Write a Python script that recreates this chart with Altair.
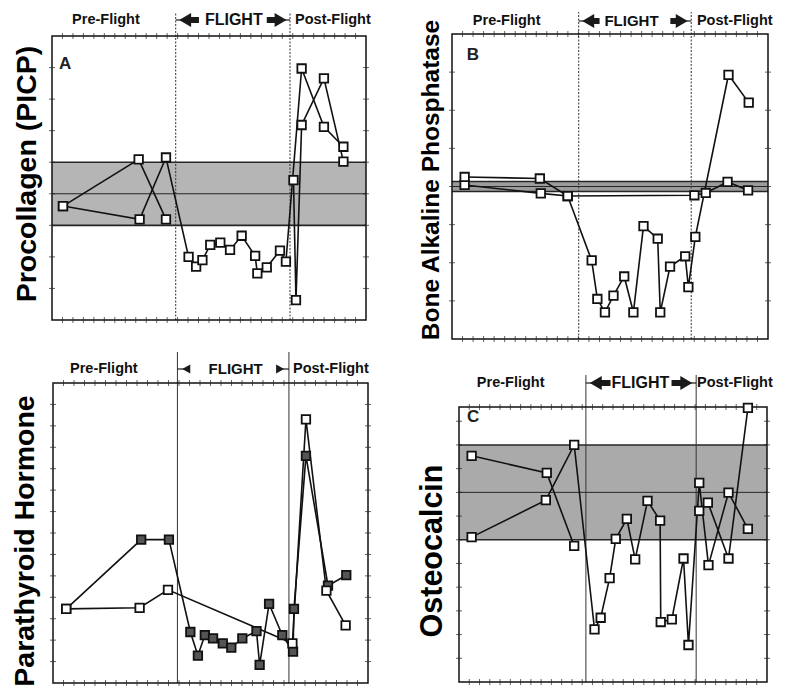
import altair as alt
import pandas as pd

# ---------------- data (x = relative time across each frame, 0-100; y = arbitrary units) -------------
# Panel A: Procollagen (PICP)
A_s1_x = [3.5, 27.9, 36.3, 43.5, 45.9, 47.9, 50.4, 53.6, 56.7, 60.4, 64.7, 65.4, 68.4, 72.6, 74.5, 79.5, 86.6, 92.8]
A_s1_y = [3.61, 3.19, 5.15, 2.00, 1.69, 1.90, 2.38, 2.45, 2.22, 2.67, 2.03, 1.48, 1.67, 2.20, 1.85, 7.97, 6.12, 5.49]
A_s2_pre_x = [3.5, 27.6, 36.3]
A_s2_pre_y = [3.61, 5.09, 3.19]
A_s2_post_x = [76.9, 77.7, 79.5, 86.6, 92.8]
A_s2_post_y = [4.43, 0.63, 6.18, 7.66, 5.02]

# Panel B: Bone Alkaline Phosphatase
B_s1_x = [4.0, 28.1, 36.6, 44.2, 46.0, 48.4, 51.1, 54.5, 57.4, 60.6, 65.1, 65.9, 69.0, 73.8, 74.8, 77.0, 87.5, 93.9]
B_s1_y = [4.04, 3.82, 3.75, 2.06, 1.05, 0.70, 1.14, 1.64, 0.70, 2.96, 2.63, 0.70, 1.90, 2.17, 1.36, 2.68, 6.93, 6.20]
B_s2_x = [4.0, 27.8, 36.6, 76.7, 80.3, 87.2, 93.7]
B_s2_y = [4.25, 4.21, 3.75, 3.77, 3.83, 4.12, 3.90]

# Panel: Parathyroid Hormone
P_s1_x = [4.2, 28.0, 36.8, 43.6, 46.0, 48.2, 50.8, 53.9, 56.6, 60.1, 64.6, 65.6, 68.6, 72.8, 76.2, 76.5, 80.3, 87.3, 93.1]
P_s1_y = [3.46, 6.69, 6.69, 2.38, 1.28, 2.23, 2.08, 1.85, 1.65, 2.08, 2.42, 0.85, 3.69, 2.23, 1.46, 3.46, 10.6, 4.54, 5.03]
P_s2_x = [4.2, 27.5, 36.5, 76.0, 80.3, 86.8, 92.9]
P_s2_y = [3.46, 3.51, 4.35, 1.85, 12.3, 4.31, 2.69]

# Panel C: Osteocalcin
C_s1_x = [4.1, 28.2, 37.4, 44.0, 46.0, 48.9, 50.9, 54.5, 57.2, 61.2, 65.3, 65.5, 69.1, 72.9, 74.5, 78.0, 81.0, 87.5, 93.8]
C_s1_y = [6.11, 7.67, 10.0, 2.22, 2.71, 4.38, 6.04, 6.88, 5.17, 7.64, 6.81, 2.53, 2.64, 5.21, 1.56, 8.40, 4.93, 7.99, 6.46]
C_s2_pre_x = [4.1, 28.5, 37.4]
C_s2_pre_y = [9.54, 8.82, 5.74]
C_s2_post_x = [78.0, 80.8, 87.5, 93.8]
C_s2_post_y = [7.22, 7.57, 5.21, 11.56]

phase_labels = ["Pre-Flight", "FLIGHT", "Post-Flight"]


def seg_df(parts):
    rows = []
    for xs, ys, seg, kind in parts:
        for i, (a, b) in enumerate(zip(xs, ys)):
            rows.append(dict(x=a, y=b, seg=seg, kind=kind, ord=i))
    return pd.DataFrame(rows)


FONT = "Liberation Sans, Arial, Helvetica, sans-serif"
NARROW = "Liberation Sans Narrow, Liberation Sans, Arial, sans-serif"


def panel(P):
    xs = alt.Scale(domain=[0, 100], range=P["xr"], nice=False, zero=False)
    ys = alt.Scale(domain=[0, P["ymax"]], range=P["yr"], nice=False, zero=False)

    def X(f):
        return alt.X(f, type="quantitative", scale=xs, axis=None)

    def Y(f):
        return alt.Y(f, type="quantitative", scale=ys, axis=None)

    layers = []
    if P["band"]:
        lo, hi, mid = P["band"]
        bdf = pd.DataFrame({"x0": [0], "x1": [100], "lo": [lo], "hi": [hi]})
        layers.append(alt.Chart(bdf).mark_rect(color=P["band_color"]).encode(
            x=X("x0"), x2="x1", y=Y("lo"), y2="hi"))
        ldf = pd.DataFrame({"x0": [0, 0, 0], "x1": [100, 100, 100], "v": [lo, hi, mid], "w": [1.6, 1.6, 1.0]})
        layers.append(alt.Chart(ldf).mark_rule(color="#262626").encode(
            x=X("x0"), x2="x1", y=Y("v"), strokeWidth=alt.StrokeWidth("w:Q", scale=None)))

    # dividers (extend up into the header as the flight bracket)
    d1, d2 = P["divs"]
    ddf = pd.DataFrame({"d": P["divs"], "y0": [0, 0]})
    rule_kw = dict(color="#333333", strokeWidth=1)
    if P["dashed"]:
        rule_kw["strokeDash"] = [2, 1.5]
    layers.append(alt.Chart(ddf).mark_rule(**rule_kw).encode(
        x=X("d"), y=Y("y0"), y2=alt.value(P["div_top"])))

    # frame
    fdf = pd.DataFrame({"x0": [0], "x1": [100], "y0": [0], "y1": [P["ymax"]]})
    layers.append(alt.Chart(fdf).mark_rect(fillOpacity=0, stroke="#111111", strokeWidth=1.5).encode(
        x=X("x0"), x2="x1", y=Y("y0"), y2="y1"))

    # ticks
    xt = [i * 100 / 30 for i in range(1, 30)]
    xtdf = pd.DataFrame({"x": xt + xt, "y": [0] * len(xt) + [P["ymax"]] * len(xt)})
    layers.append(alt.Chart(xtdf).mark_tick(orient="vertical", size=6, thickness=1, color="#222222").encode(
        x=X("x"), y=Y("y")))
    yt = list(range(1, int(P["ymax"]) + 1))
    yt = [v for v in yt if v < P["ymax"]]
    ytdf = pd.DataFrame({"y": yt + yt, "x": [0] * len(yt) + [100] * len(yt)})
    layers.append(alt.Chart(ytdf).mark_tick(orient="horizontal", size=6, thickness=1, color="#222222").encode(
        x=X("x"), y=Y("y")))

    # data
    sdf = seg_df(P["series"])
    layers.append(alt.Chart(sdf).mark_line(color="#111111", strokeWidth=1.6).encode(
        x=X("x"), y=Y("y"), detail="seg:N", order="ord:Q"))
    layers.append(alt.Chart(sdf).mark_point(shape="square", filled=True, size=72, stroke="#111111",
                                            strokeWidth=1.8, opacity=1).encode(
        x=X("x"), y=Y("y"),
        fill=alt.Fill("kind:N", scale=alt.Scale(domain=["open", "filled"], range=["#ffffff", "#555555"]),
                      legend=None)))

    # header texts
    hy = P["hdr_y"]
    left_df = pd.DataFrame({"x": [P["pre_x"], P["post_x"]], "t": [phase_labels[0], phase_labels[2]]})
    layers.append(alt.Chart(left_df).mark_text(font=FONT, fontWeight="bold", fontSize=14.5, align="left",
                                               baseline="middle", color="#111111").encode(
        x=X("x"), y=alt.value(hy), text="t:N"))
    fl_df = pd.DataFrame({"x": [P["flight_x"]], "t": [phase_labels[1]]})
    layers.append(alt.Chart(fl_df).mark_text(font=NARROW, fontWeight="bold", fontSize=P["flight_size"],
                                             align="center", baseline="middle", color="#111111").encode(
        x=X("x"), y=alt.value(hy), text="t:N"))

    # flight bracket arrows: thin lead line, triangular head, thick tail
    h, t0, t1 = P["arrow_geo"]
    lead = pd.DataFrame({"a": [d1, d2 - h], "b": [d1 + h, d2]})
    layers.append(alt.Chart(lead).mark_rule(color="#1a1a1a", strokeWidth=1.2).encode(
        x=X("a"), x2="b", y=alt.value(hy)))
    heads = pd.DataFrame({"x": [d1 + h, d2 - h], "s": ["triangle-left", "triangle-right"]})
    layers.append(alt.Chart(heads).mark_point(filled=True, size=P["head_size"], color="#1a1a1a",
                                              opacity=1).encode(
        x=X("x"), y=alt.value(hy),
        shape=alt.Shape("s:N", scale=alt.Scale(domain=["triangle-left", "triangle-right"],
                                               range=["triangle-left", "triangle-right"]), legend=None)))
    if P["tail"]:
        tails = pd.DataFrame({"a": [d1 + t0, d2 - t1], "b": [d1 + t1, d2 - t0]})
        layers.append(alt.Chart(tails).mark_rule(color="#1a1a1a", strokeWidth=P["tail"]).encode(
            x=X("a"), x2="b", y=alt.value(hy)))

    # panel letter
    if P["letter"]:
        lx, ly, lt = P["letter"]
        ldf2 = pd.DataFrame({"x": [lx], "y": [ly], "t": [lt]})
        layers.append(alt.Chart(ldf2).mark_text(font=FONT, fontWeight="bold", fontSize=17, align="left",
                                                baseline="middle", color="#222222").encode(
            x=X("x"), y=Y("y"), text="t:N"))

    # y-axis title
    tdf = pd.DataFrame({"t": [P["title"]]})
    layers.append(alt.Chart(tdf).mark_text(font=FONT, fontWeight="bold", fontSize=P["title_size"], angle=270,
                                           align="center", baseline="middle", color="#000000").encode(
        x=alt.value(P["title_xy"][0]), y=alt.value(P["title_xy"][1]), text="t:N"))

    return alt.layer(*layers)


panels = [
    dict(xr=[44, 358], yr=[312, 28], ymax=9, band=(3, 5, 4), band_color="#b5b5b5", divs=[39.4, 75.8],
         dashed=True, div_top=4, hdr_y=12, pre_x=6.4, post_x=77.4, flight_x=57.9, flight_size=16,
         arrow_geo=(3.0, 4.4, 7.4), head_size=190, tail=6,
         series=[(A_s1_x, A_s1_y, "s1", "open"), (A_s2_pre_x, A_s2_pre_y, "s2a", "open"),
                 (A_s2_post_x, A_s2_post_y, "s2b", "open")],
         letter=(2.2, 8.1, "A"), title="Procollagen (PICP)", title_size=28.5, title_xy=(19, 166)),
    dict(xr=[444, 760], yr=[331, 26], ymax=8, band=(3.87, 4.13, 4.0), band_color="#9c9c9c", divs=[40.1, 75.7],
         dashed=True, div_top=4, hdr_y=13, pre_x=6.6, post_x=77.5, flight_x=56.8, flight_size=15,
         arrow_geo=(3.0, 4.4, 6.6), head_size=190, tail=6,
         series=[(B_s1_x, B_s1_y, "s1", "open"), (B_s2_x, B_s2_y, "s2", "open")],
         letter=(4.7, 7.45, "B"), title="Bone Alkaline Phosphatase", title_size=24.5, title_xy=(424, 172)),
    dict(xr=[45, 360], yr=[675, 375], ymax=14, band=None, band_color=None, divs=[39.5, 74.9],
         dashed=False, div_top=344, hdr_y=361, pre_x=5.4, post_x=76.2, flight_x=58.0, flight_size=15,
         arrow_geo=(2.8, 0, 0), head_size=85, tail=0,
         series=[(P_s1_x, P_s1_y, "s1", "filled"), (P_s2_x, P_s2_y, "s2", "open")],
         letter=None, title="Parathyroid Hormone", title_size=28.5, title_xy=(17, 533)),
    dict(xr=[451, 759], yr=[674, 399], ymax=11.6, band=(6, 10, 8), band_color="#aaaaaa", divs=[41.2, 77.0],
         dashed=False, div_top=367, hdr_y=375, pre_x=5.8, post_x=77.3, flight_x=58.9, flight_size=16,
         arrow_geo=(3.2, 4.6, 8.0), head_size=190, tail=6,
         series=[(C_s1_x, C_s1_y, "s1", "open"), (C_s2_pre_x, C_s2_pre_y, "s2a", "open"),
                 (C_s2_post_x, C_s2_post_y, "s2b", "open")],
         letter=(2.6, 11.18, "C"), title="Osteocalcin", title_size=30.5, title_xy=(425, 543)),
]

chart = alt.layer(*[panel(p) for p in panels]).resolve_scale(
    x="independent", y="independent"
).properties(
    width=769, height=678, autosize=alt.AutoSizeParams(type="none"), padding=0,
    background="#ffffff"
).configure_view(stroke=None)

chart.save("out.html", embed_options={"renderer": "svg", "actions": False})
